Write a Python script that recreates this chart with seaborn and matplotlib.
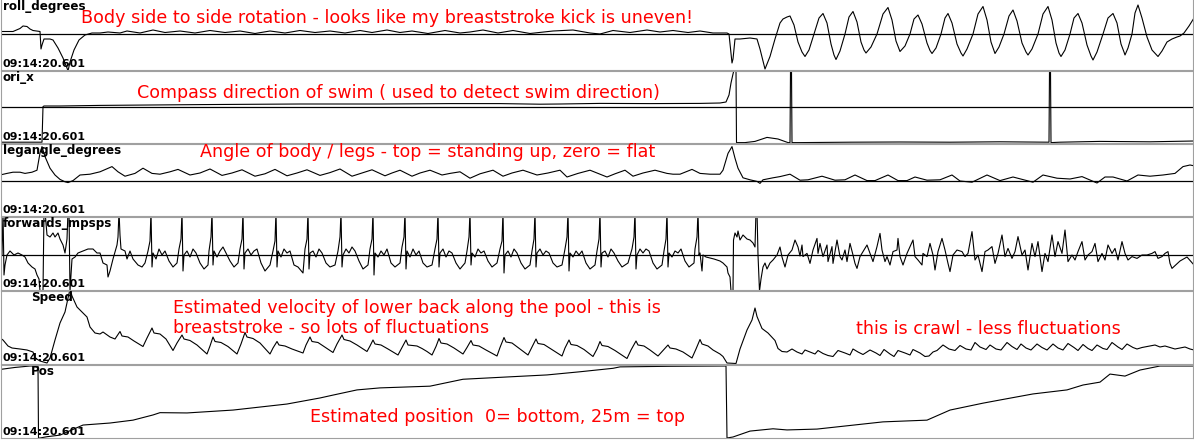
import pandas as pd
import seaborn as sns
import matplotlib.pyplot as plt

sns.set_style("white")
plt.rcParams['font.family'] = ['DejaVu Sans']

W, H = 1194, 440
STAMP = "09:14:20.601"

#######################
# traces as (sample @ 20 Hz, value)

roll_degrees = [
    (0, 5), (13, 5), (20, 11), (23, 16), (27, 15), (30, 10), (33, 7), (40, 5),
    (41, -30), (42, -22), (44, -10), (50, -10), (53, -12), (58, -28), (63, -48),
    (67, -68), (68, -74), (70, -56), (74, -32), (79, -12), (85, -2), (92, 2),
    (100, 2), (108, 4), (120, 2), (127, 6), (140, 2), (153, 8), (165, 3), (180, 6),
    (195, 2), (210, 7), (225, 3), (240, 6), (255, 1), (270, 6), (285, 2), (300, 7),
    (315, 3), (330, 6), (345, 2), (360, 7), (372, 3), (387, 8), (400, 3), (412, 6),
    (428, 1), (445, 7), (460, 2), (470, 4), (483, 8), (498, 2), (513, 7), (530, 1),
    (553, 6), (573, 8), (590, 2), (600, 0), (613, 7), (630, 3), (647, 8), (660, 4),
    (673, 7), (688, 3), (700, 6), (713, 2), (727, 2), (729, 0), (731, -40),
    (732, -58), (733, -50), (735, -10), (740, -10), (750, -8), (757, -10),
    (760, -30), (765, -70),
    (770, -45), (775, -10), (780, 22), (783, 30), (787, 34), (790, 36),
    (794, 18), (798, -16), (802, -36), (805, -45),
    (809, -32), (814, 0), (819, 32), (823, 41),
    (827, 22), (831, -20), (834, -42), (836, -51),
    (840, -34), (845, 0), (849, 34), (853, 45),
    (857, 24), (861, -16), (864, -32), (866, -38),
    (871, -26), (877, 0), (883, 40), (888, 53),
    (892, 28), (896, -14), (899, -30), (900, -35),
    (905, -24), (910, 0), (914, 30), (918, 38),
    (922, 20), (927, -18), (930, -33), (932, -39),
    (936, -28), (941, 0), (945, 32), (948, 41),
    (952, 22), (957, -20), (961, -38), (963, -44),
    (967, -30), (973, 0), (978, 40), (983, 55),
    (987, 28), (991, -16), (994, -33), (995, -39),
    (999, -26), (1004, 0), (1009, 36), (1013, 48),
    (1017, 26), (1022, -18), (1026, -36), (1028, -42),
    (1032, -30), (1038, 0), (1043, 40), (1048, 55),
    (1052, 28), (1056, -18), (1059, -38), (1061, -45),
    (1065, -32), (1070, 0), (1074, 32), (1078, 41),
    (1082, 22), (1087, -22), (1091, -44), (1093, -52),
    (1097, -36), (1103, 0), (1108, 32), (1113, 41),
    (1117, 22), (1121, -20), (1124, -36), (1125, -42),
    (1128, -28), (1132, 0), (1135, 42), (1138, 58),
    (1142, 32), (1147, -6), (1152, -32), (1158, -45),
    (1162, -34), (1167, -16), (1172, -10), (1177, -6), (1180, -4), (1184, 2),
    (1189, 16), (1194, 32),
]

ori_x = [
    (0, -176), (42, -176), (43, 2), (44, 5), (60, 5), (100, 8), (150, 10),
    (200, 12), (300, 15), (380, 15), (420, 16), (450, 17), (500, 17), (540, 14),
    (560, 15), (600, 18), (650, 17), (700, 18), (720, 20), (726, 25), (729, 60),
    (731, 120), (733, 165), (734, 185), (736, 185), (736.5, -178), (745, -178),
    (755, -172), (767, -152), (778, -160), (788, -178), (790, -178),
    (790.5, 185), (791.5, 185), (792, -178), (800, -178), (850, -176),
    (900, -175), (950, -176), (1000, -174), (1049, -176), (1049.5, 185),
    (1050.5, 185), (1051, -178), (1060, -176), (1100, -172), (1150, -174),
    (1194, -170),
]

legangle_degrees = [
    (0, 15), (7, 19), (13, 22), (20, 22), (25, 19), (32, 22), (37, 27), (40, 70),
    (42, 86), (45, 61), (50, 32), (55, 15), (60, 4), (65, -2), (68, -4), (73, 1),
    (80, 15), (90, 17), (100, 23), (112, 36), (118, 23), (125, 12), (135, 19),
    (143, 32), (152, 19), (160, 17), (170, 23), (178, 29), (190, 15), (200, 20),
    (210, 30), (222, 14), (232, 20), (242, 28), (255, 12), (265, 18), (275, 29),
    (287, 13), (297, 20), (307, 28), (320, 14), (330, 21), (340, 30), (352, 12),
    (362, 20), (372, 28), (385, 13), (392, 20), (400, 27), (412, 12), (420, 20),
    (430, 27), (442, 15), (450, 19), (460, 23), (470, 7), (480, 18), (493, 27),
    (503, 12), (512, 20), (523, 27), (537, 15), (548, 20), (560, 27), (567, 10),
    (578, 19), (590, 27), (607, 10), (615, 18), (625, 27), (633, 12), (643, 20),
    (655, 27), (667, 19), (673, 17), (680, 17), (692, 29), (700, 19), (710, 17),
    (720, 17), (723, 27), (728, 69), (732, 86), (735, 57), (738, 32), (743, 8),
    (750, 3), (757, -1), (760, -6), (763, 3), (773, 8), (780, 11), (790, 17),
    (800, 2), (808, 3), (822, 12), (835, 2), (845, 3), (855, 15), (867, 1),
    (875, 1), (888, 15), (898, 1), (907, 1), (915, 10), (927, 2), (940, 3),
    (952, 15), (960, 0), (972, -3), (987, 15), (1000, 1), (1013, 10), (1027, 1),
    (1033, -3), (1043, 15), (1057, 7), (1070, 5), (1082, 11), (1097, -5),
    (1105, 10), (1113, 10), (1127, 0), (1138, 15), (1150, 12), (1163, 15),
    (1175, 19), (1183, 36), (1190, 40), (1194, 38),
]

forwards_mpsps = [
    (0, 0), (2, 0), (3, 22), (4, -10), (5, -5), (7, 0), (10, 2), (14, 0), (18, 1),
    (22, 0), (25, -1), (28, -4), (32, -6), (35, -7), (37, -10), (39, -12),
    (40, -18), (43, -18), (44, 22), (45, 22), (47, 10), (50, 9), (53, 11), (55, 9),
    (58, 11), (60, 8), (62, 6), (63, 5), (65, 1), (67, 8), (68, 22), (69, 22),
    (70, -18), (72, -2), (75, -1), (78, 1), (83, 2), (88, 3), (93, 3), (97, 1),
    (100, 1), (103, -4), (107, -5), (108, -11), (110, -8), (113, -2), (117, 5),
    (118, 9), (119, 22), (120, 10), (121, 3), (125, 2), (127, -2), (130, 2),
    (133, -2), (138, -5), (142, -6), (145, -4),
    # breaststroke kicks
    (148, 2), (150, 7), (151, 22), (152, -6), (153, 1), (156, -2), (159, 3), (162, 0), (165, 2), (169, -3), (173, -6), (177, -4),
    (179, 3), (181, 8), (182, 22), (183, -8), (184, 0), (187, 2), (190, -1), (193, 3), (196, 1), (200, -4), (204, -7), (208, -5),
    (209, 2), (211, 9), (212, 22), (213, -5), (214, 2), (217, -1), (220, 2), (223, 4), (226, 1), (230, -3), (234, -6), (238, -4),
    (240, 3), (242, 8), (243, 22), (244, -7), (245, 1), (248, 3), (251, 0), (254, 2), (257, 3), (261, -4), (265, -8), (270, -5),
    (273, 2), (275, 7), (276, 22), (277, -6), (278, 2), (281, -1), (284, 3), (287, 1), (290, 2), (294, -5), (298, -6), (303, -9),
    (305, 3), (307, 8), (308, 22), (309, -7), (310, 1), (313, 2), (316, -1), (319, 3), (322, 1), (326, -4), (330, -6), (335, -5),
    (338, 2), (340, 9), (341, 22), (342, -6), (343, 0), (346, 3), (349, 1), (352, 4), (355, 2), (359, -3), (363, -7), (368, -5),
    (370, 3), (372, 8), (373, 22), (374, -10), (375, 1), (378, -1), (381, 2), (384, 0), (387, 3), (391, -4), (395, -6), (400, -4),
    (402, 4), (404, 9), (405, 22), (406, -7), (407, 2), (410, -1), (413, 3), (416, 0), (419, 2), (423, -4), (427, -6), (432, -5),
    (435, 3), (437, 8), (438, 22), (439, -6), (440, 1), (443, 3), (446, -1), (449, 2), (452, 1), (456, -4), (460, -7), (465, -4),
    (467, 2), (469, 9), (470, 22), (471, -5), (472, 1), (475, -1), (478, 3), (481, 1), (484, 2), (488, -3), (492, -6), (497, -4),
    (500, 3), (502, 7), (503, 22), (504, -9), (505, 0), (508, 2), (511, -1), (514, 3), (517, 1), (521, -4), (525, -7), (530, -5),
    (532, 2), (534, 8), (535, 22), (536, -6), (537, 1), (540, 3), (543, 0), (546, 2), (549, 1), (553, -4), (557, -6), (562, -5),
    (565, 3), (567, 9), (568, 22), (569, -8), (570, 1), (573, -1), (576, 2), (579, 0), (582, 2), (586, -4), (590, -7), (595, -5),
    (597, 2), (599, 8), (600, 22), (601, -6), (602, 1), (605, 2), (608, -1), (611, 3), (614, 1), (618, -3), (622, -6), (628, -4),
    (632, 3), (634, 9), (635, 22), (636, -7), (637, 0), (640, 3), (643, 1), (646, 3), (649, 2), (653, -4), (657, -7), (662, -5),
    (664, 2), (666, 8), (667, 22), (668, -6), (669, 1), (672, -1), (675, 2), (678, 1), (681, 3), (685, -3), (689, -6), (694, -4),
    (695, 3), (697, 9), (698, 22), (699, 0), (700, 1), (702, -8), (703, 0),
    # turn
    (706, -1), (710, -1.5), (714, -2), (717, -2.5), (720, -3), (723, -4), (727, -6),
    (728, -9), (730, -11), (731, -18), (733, -18), (733.5, 7.5), (735, 11), (737, 9),
    (738, 12), (740, 7.5), (743, 10), (747, 8), (750, 7.5), (753, 6), (755, 4),
    (756, 22), (757, 22), (758, 0), (759.5, -18), (761, -12), (763, -6), (765, -4),
    (767, -7), (770, -4), (773, -2.5), (777, 0), (780, 4), (782, -1), (785, -6),
    (788, 0), (792, 2.5), (795, 7.5), (798, 4), (800, -0.5),
    # crawl
    (802, 5), (803, -0.8), (807, 0.8), (810, -4.2), (813, 2.5), (817, 8.3), (818, 0.8), (820, 5.8), (823, -0.8), (827, 5),
    (828, -3.3), (832, 4.2), (833, -4.2), (837, 7.5), (840, -0.8), (842, -2.5), (845, 2.5), (847, -3.3), (850, 5.8), (853, 0),
    (855, -4.2), (857, -6.7), (860, -0.8), (863, 1.7), (867, 5), (870, 0.8), (873, -3.3), (877, 4.2), (880, 10.8), (882, 2.5),
    (885, -3.3), (887, -0.8), (890, -5), (893, 1.7), (897, 2.5), (898, 8.3), (900, -0.8), (903, -5), (907, 0.8), (910, 4.2),
    (913, 7.5), (915, -0.8), (918, -2.5), (922, -5), (923, 0.8), (927, -0.8), (930, 5.8), (933, 0), (935, -7.5), (938, 1.7),
    (942, 8.3), (945, 2.5), (948, -4.2), (950, -8.3), (953, 0), (957, 2.5), (962, 1.7), (965, -0.8), (968, 0.8), (972, 11.7),
    (975, -2.5), (978, 0), (982, -8.3), (985, 1.7), (988, 2.5), (992, 4.2), (995, -4.2), (998, 0.8), (1002, 10), (1005, -0.8),
    (1008, 3.3), (1012, -1.7), (1015, 1.7), (1018, 9.2), (1022, 0), (1025, 2.5), (1028, -7.5), (1032, 5.8), (1035, -0.8), (1038, 6.7),
    (1042, -8.3), (1045, 0.8), (1048, -3.3), (1052, 10), (1055, -0.8), (1058, 6.7), (1062, 0.8), (1065, 12.5), (1068, -3.3), (1072, 0),
    (1075, -2.5), (1078, 1.7), (1082, 6.7), (1085, -2.5), (1088, 0), (1092, 1.7), (1095, 5.8), (1098, -3.3), (1102, 0.8), (1105, -2.5),
    (1108, 5), (1112, 0.8), (1115, 3.3), (1118, -2.5), (1122, 6.7), (1125, 0.8), (1128, -2.5), (1132, -0.8), (1137, -1.7), (1142, 0),
    (1147, 0), (1152, 0.8), (1155, 1.7), (1158, -1.7), (1162, -0.8), (1165, 0.8), (1168, 1.7), (1170, -4.2), (1172, -6.7), (1180, -3),
    (1187, -1), (1194, -5),
]

speed = [
    (0, .52), (3, .48), (8, .36), (12, .32), (20, .30), (27, .28), (33, .24), (35, .12),
    (40, .06), (47, .02), (50, .12), (55, .48), (60, .82), (65, 1.04), (68, 1.32),
    (70, 1.50), (72, 1.36), (77, 1.14), (83, 1.02), (87, .94), (90, .74), (95, .62),
    (100, .60), (103, .64), (110, .54), (115, .50),
    (120, .65), (122, .56), (128, .54), (134, .46), (143, .35), (147, .52),
    (152, .72), (154, .62), (160, .60), (166, .50), (173, .27), (177, .42),
    (182, .58), (184, .50), (190, .47), (197, .38), (207, .20), (210, .36),
    (213, .54), (215, .45), (221, .43), (228, .35), (237, .20), (241, .40),
    (245, .63), (247, .54), (253, .51), (260, .42), (270, .20), (273, .32),
    (277, .45), (279, .38), (285, .36), (292, .30), (303, .22), (306, .38),
    (310, .54), (312, .45), (318, .43), (324, .35), (333, .23), (337, .40),
    (342, .58), (344, .49), (350, .46), (357, .38), (367, .25), (370, .36),
    (373, .48), (375, .40), (381, .38), (388, .30), (398, .18), (402, .33),
    (406, .48), (408, .38), (417, .36), (422, .31), (427, .25), (432, .18), (436, .35),
    (439, .51), (441, .42), (447, .40), (454, .32), (463, .20), (467, .33),
    (471, .47), (473, .38), (479, .36), (486, .28), (497, .16), (500, .33),
    (504, .53), (506, .44), (512, .42), (518, .33), (528, .18), (532, .34),
    (536, .50), (538, .41), (544, .39), (551, .30), (562, .16), (565, .32),
    (569, .48), (571, .39), (577, .37), (584, .29), (593, .15), (597, .30),
    (600, .45), (602, .37), (608, .35), (615, .27), (627, .11), (631, .28),
    (636, .46), (638, .38), (644, .36), (650, .28), (658, .16), (663, .27),
    (668, .38), (670, .32), (676, .30), (683, .24), (692, .12), (696, .30),
    (700, .49), (702, .40), (708, .36), (713, .28), (720, .20), (723, .15),
    (727, .02), (736, .01), (740, .30), (747, .68), (752, .88), (755, 1.12),
    (757, .95), (762, .71), (768, .62), (775, .47), (778, .31), (782, .25), (787, .24),
    (792, .30), (797, .24), (802, .20), (805, .28), (810, .24), (815, .20), (818, .27),
    (823, .21), (828, .17), (833, .15), (838, .27), (845, .22), (850, .18), (853, .30),
    (858, .24), (863, .19), (870, .28), (876, .22), (880, .17), (884, .29), (890, .20),
    (894, .15), (898, .27), (905, .22), (910, .18), (913, .29), (920, .22), (925, .15),
    (929, .16), (933, .24), (937, .27), (943, .38), (949, .30), (955, .27), (960, .37),
    (966, .30), (971, .28), (975, .43), (980, .34), (986, .29), (990, .38), (996, .30),
    (1001, .28), (1007, .43), (1012, .35), (1017, .29), (1021, .40), (1026, .32),
    (1031, .28), (1037, .40), (1042, .33), (1047, .28), (1053, .40), (1058, .32),
    (1063, .28), (1068, .41), (1074, .33), (1078, .27), (1083, .39), (1088, .31),
    (1092, .27), (1097, .38), (1103, .31), (1107, .29), (1112, .43), (1118, .34),
    (1122, .29), (1127, .40), (1133, .33), (1137, .30), (1142, .33), (1150, .36),
    (1155, .38), (1160, .34), (1165, .36), (1170, .33), (1175, .30), (1180, .32),
    (1185, .34), (1190, .30), (1194, .28),
]

pos_m = [
    (0, 23.8), (15, 24.5), (30, 25.0), (38, 25.0), (38.5, 0.0), (40, 0.0), (47, 0.45),
    (60, 1.0), (83, 4.5), (110, 5.2), (133, 6.2), (153, 8.0), (160, 8.8), (187, 8.7),
    (233, 9.7), (287, 11.8), (320, 13.9), (333, 14.9), (357, 16.7), (380, 17.4),
    (430, 18.0), (463, 20.4), (513, 21.3), (547, 21.9), (580, 23.0), (613, 24.2),
    (620, 24.7), (670, 24.9), (726, 25.0), (727, 0.0), (733, 0.35), (750, 2.4),
    (773, 3.2), (787, 2.8), (817, 3.1), (883, 5.6), (927, 6.2), (950, 9.7),
    (983, 12.1), (1000, 13.2), (1033, 15.3), (1067, 16.7), (1083, 18.4),
    (1100, 19.4), (1110, 22.2), (1125, 21.5), (1140, 23.6), (1160, 25.0),
    (1194, 25.0),
]

# (trace, label, label x, top px, bottom px, ylim, zero line)
panels = [
    (roll_degrees, "roll_degrees", 2.7, 0, 70, (-72, 68), True),
    (ori_x, "ori_x", 2.7, 71, 143, (-180, 180), True),
    (legangle_degrees, "legangle_degrees", 2.7, 144, 216, (-87.5, 92.5), True),
    (forwards_mpsps, "forwards_mpsps", 2.7, 217, 290, (-17.5, 19), True),
    (speed, "Speed", 30.7, 291, 364, (0, 1.46), False),
    (pos_m, "Pos", 30.7, 365, 438, (0, 25.35), False),
]

notes = [
    ("Body side to side rotation - looks like my breaststroke kick is uneven!", 81, 23),
    ("Compass direction of swim ( used to detect swim direction)", 137, 98.3),
    ("Angle of body / legs - top = standing up, zero = flat", 200, 157.3),
    ("Estimated velocity of lower back along the pool - this is", 173, 313.3),
    ("breaststroke - so lots of fluctuations", 173, 333.3),
    ("this is crawl - less fluctuations", 856, 334.3),
    ("Estimated position  0= bottom, 25m = top", 310, 421.7),
]

#######################

fig = plt.figure(figsize=(W / 100, H / 100), dpi=100)

for trace, label, lx, top, bot, ylim, zero in panels:
    ax = fig.add_axes([1 / W, 1 - bot / H, (W - 2) / W, (bot - top) / H])
    df = pd.DataFrame(trace, columns=["sample", "value"])
    if zero:
        ax.axhline(0, color="black", lw=0.9, zorder=1)
    sns.lineplot(data=df, x="sample", y="value", ax=ax, color="black",
                 linewidth=0.8, estimator=None, sort=False, zorder=2)
    ax.set(xlim=(1, W - 1), ylim=ylim, xticks=[], yticks=[], xlabel="", ylabel="")
    for s in ax.spines.values():
        s.set_color("#a0a0a0")
        s.set_linewidth(0.8)
    if top == 0:
        ax.spines["top"].set_visible(False)
    fig.text(lx / W, 1 - (top + 10) / H, label, fontsize=8.6, fontweight="bold",
             va="baseline", color="black")
    fig.text(2.7 / W, 1 - (bot - 3.3) / H, STAMP, fontsize=8, fontweight="bold",
             va="baseline", color="black")

for txt, x, y in notes:
    fig.text(x / W, 1 - y / H, txt, fontsize=12.6, color="red", va="baseline")

fig.savefig("out.png", dpi=100)
